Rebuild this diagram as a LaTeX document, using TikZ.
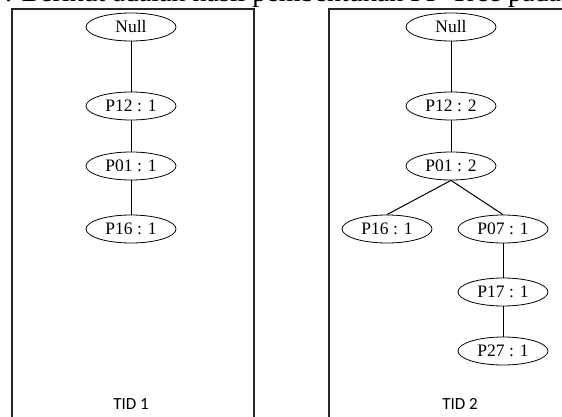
\documentclass[tikz,border=0pt]{standalone}
\usepackage{fontspec}
\setmainfont{Liberation Serif}
\newfontfamily\tidfont{Carlito}
\usetikzlibrary{shapes.geometric}
\begin{document}
\begin{tikzpicture}[x=1pt,y=-1pt,
  tnode/.style={draw,ellipse,minimum width=90pt,minimum height=28pt,inner sep=0pt,line width=0.8pt,
    font=\fontsize{17.5}{19}\selectfont},
  tedge/.style={line width=1pt},
  frame/.style={draw=black!85,line width=1.2pt},
  tid/.style={font=\tidfont\fontsize{17}{19}\selectfont}]
\useasboundingbox (0,0) rectangle (562,417);
\clip (0,0) rectangle (562,417);
% header line (cut off)
\node[anchor=base west,inner sep=0pt,font=\fontsize{28}{30}\selectfont] (hdr) at (-9,2) {7. Berikut adalah hasil pembentukan FP-Tree pada data};
% frames
\draw[frame] (12,430) -- (12,9) -- (254,9) -- (254,430);
\draw[frame] (329,430) -- (329,9) -- (575,9);
% TID 1
\node[tnode] (a0) at (131,27) {Null};
\node[tnode] (a1) at (131,106) {P12 : 1};
\node[tnode] (a2) at (131,166) {P01 : 1};
\node[tnode] (a3) at (131,229) {P16 : 1};
\draw[tedge] (a0) -- (a1);
\draw[tedge] (a1) -- (a2);
\draw[tedge] (a2) -- (a3);
\node[tid] (t1) at (131,404) {TID 1};
% TID 2
\node[tnode] (b0) at (451,27) {Null};
\node[tnode] (b1) at (451,106) {P12 : 2};
\node[tnode] (b2) at (451,166) {P01 : 2};
\node[tnode] (b3) at (387,229) {P16 : 1};
\node[tnode] (b4) at (503,229) {P07 : 1};
\node[tnode] (b5) at (503,292) {P17 : 1};
\node[tnode] (b6) at (503,351) {P27 : 1};
\draw[tedge] (b0) -- (b1);
\draw[tedge] (b1) -- (b2);
\draw[tedge] (b2.south) -- (b3.north);
\draw[tedge] (b2.south) -- (b4.north);
\draw[tedge] (b4) -- (b5);
\draw[tedge] (b5) -- (b6);
\node[tid] (t2) at (460,404) {TID 2};
\end{tikzpicture}
\end{document}
